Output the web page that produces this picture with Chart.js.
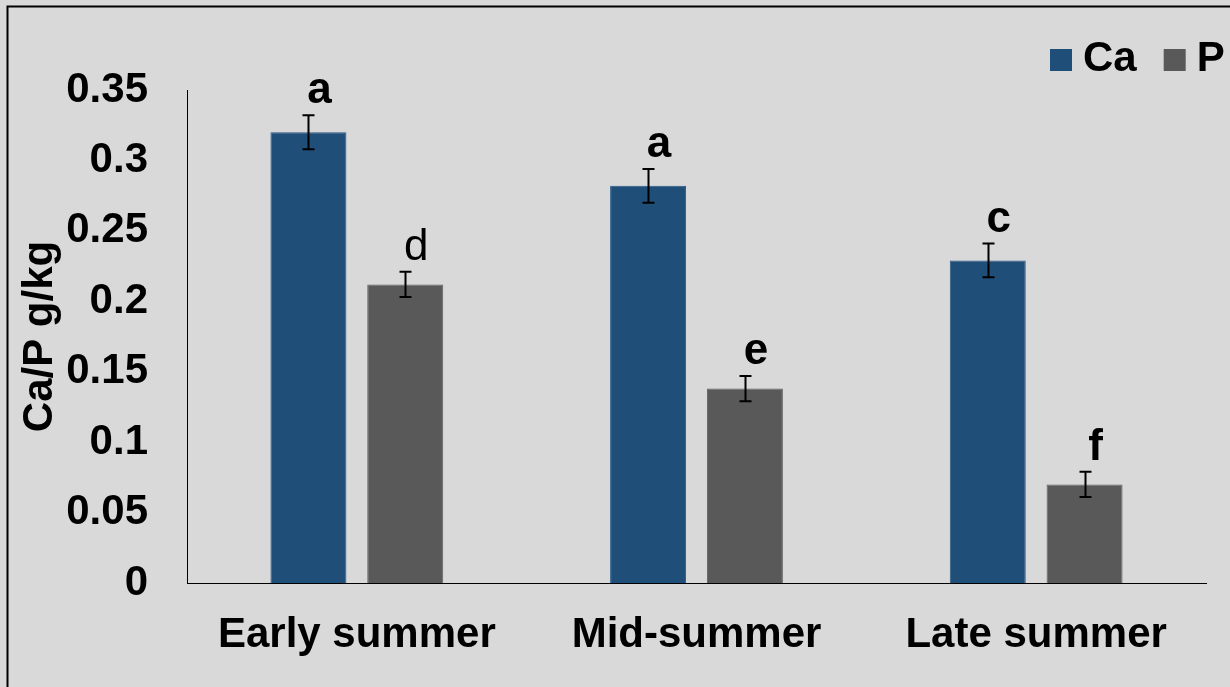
<!DOCTYPE html>
<html>
<head>
<meta charset="utf-8">
<title>Ca/P by season</title>
<script src="https://cdn.jsdelivr.net/npm/chart.js@4/dist/chart.umd.min.js"></script>
<style>
  html, body { margin: 0; padding: 0; background: #d9d9d9; }
  #wrap { width: 1230px; height: 687px; }
  canvas { display: block; }
</style>
</head>
<body>
<div id="wrap"><canvas id="chart" width="1230" height="687"></canvas></div>
<script>
// Seasons on the x axis
const seasons = ['Early summer', 'Mid-summer', 'Late summer'];

// Mean concentrations (g/kg)
const caValues = [0.320, 0.282, 0.229];
const pValues = [0.212, 0.138, 0.070];

// Error bar half-widths (g/kg)
const caErrors = [0.012, 0.012, 0.012];
const pErrors = [0.009, 0.009, 0.009];

// Significance letters above each bar
const caLetters = ['a', 'a', 'c'];
const pLetters = ['d', 'e', 'f'];

// Y axis tick values and their labels
const yTickValues = [0, 0.05, 0.1, 0.15, 0.2, 0.25, 0.3, 0.35];
const yTickLabels = ['0', '0.05', '0.1', '0.15', '0.2', '0.25', '0.3', '0.35'];

const FONT = '"Liberation Sans", Arial, sans-serif';
const CA_COLOR = '#1f4e79';
const P_COLOR = '#595959';

// Panel background and frame lines
const panelPlugin = {
  id: 'panel',
  beforeDraw(chart) {
    const ctx = chart.ctx;
    ctx.save();
    ctx.fillStyle = '#d9d9d9';
    ctx.fillRect(0, 0, chart.width, chart.height);
    ctx.strokeStyle = '#000';
    ctx.lineWidth = 2;
    ctx.beginPath();
    ctx.moveTo(chart.width, 6.5);
    ctx.lineTo(7.5, 6.5);
    ctx.lineTo(7.5, chart.height);
    ctx.stroke();
    ctx.restore();
  }
};

// Error bars and significance letters, positioned through the y scale
const errorBarPlugin = {
  id: 'errorBars',
  afterDatasetsDraw(chart, args, opts) {
    const ctx = chart.ctx;
    const y = chart.scales.y;
    const errSets = [caErrors, pErrors];
    const letterSets = [caLetters, pLetters];
    ctx.save();
    chart.data.datasets.forEach((ds, di) => {
      const meta = chart.getDatasetMeta(di);
      meta.data.forEach((bar, i) => {
        const v = ds.data[i];
        const e = errSets[di][i];
        const x = Math.round(bar.x) + 0.5;
        const yTop = y.getPixelForValue(v + e);
        const yBot = y.getPixelForValue(v - e);
        ctx.strokeStyle = '#000';
        ctx.lineWidth = 2;
        ctx.beginPath();
        ctx.moveTo(x, yTop);
        ctx.lineTo(x, yBot);
        ctx.moveTo(x - 6, yTop);
        ctx.lineTo(x + 6, yTop);
        ctx.moveTo(x - 6, yBot);
        ctx.lineTo(x + 6, yBot);
        ctx.stroke();

        const letter = letterSets[di][i];
        const weight = (opts.regularLetters || []).includes(letter) ? 'normal' : 'bold';
        ctx.font = weight + ' 44px ' + FONT;
        ctx.fillStyle = '#000';
        ctx.textAlign = 'center';
        ctx.textBaseline = 'alphabetic';
        ctx.fillText(letter, bar.x + 11, yTop - 12);
      });
    });
    ctx.restore();
  }
};

// Legend with compact square markers, top right
const legendPlugin = {
  id: 'squareLegend',
  afterDraw(chart) {
    const ctx = chart.ctx;
    ctx.save();
    ctx.font = 'bold 42px ' + FONT;
    ctx.textBaseline = 'alphabetic';
    ctx.textAlign = 'left';
    let x = 1050;
    const boxTop = 49, box = 22, baseline = 71;
    chart.data.datasets.forEach((ds) => {
      ctx.fillStyle = ds.backgroundColor;
      ctx.fillRect(x, boxTop, box, box);
      x += box + 11;
      ctx.fillStyle = '#000';
      ctx.fillText(ds.label, x, baseline);
      x += ctx.measureText(ds.label).width + 27;
    });
    ctx.restore();
  }
};

new Chart(document.getElementById('chart'), {
  type: 'bar',
  data: {
    labels: seasons,
    datasets: [
      {
        label: 'Ca',
        data: caValues,
        backgroundColor: CA_COLOR,
        borderColor: '#2c5a87',
        borderWidth: 1,
        categoryPercentage: 0.57,
        barPercentage: 0.785
      },
      {
        label: 'P',
        data: pValues,
        backgroundColor: P_COLOR,
        borderColor: '#626262',
        borderWidth: 1,
        categoryPercentage: 0.57,
        barPercentage: 0.785
      }
    ]
  },
  options: {
    responsive: false,
    animation: false,
    devicePixelRatio: 1,
    layout: { padding: { top: 90, right: 24, bottom: 0, left: 0 } },
    plugins: {
      legend: { display: false },
      tooltip: { enabled: false },
      errorBars: { regularLetters: ['d'] }
    },
    scales: {
      x: {
        grid: { display: false, drawTicks: false },
        border: { display: true, color: '#000', width: 1 },
        ticks: {
          color: '#000',
          padding: 27,
          font: { family: FONT, size: 42, weight: 'bold' }
        },
        afterFit(scale) { scale.height = 104; }
      },
      y: {
        min: 0,
        max: 0.35,
        grid: { display: false, drawTicks: false },
        border: { display: true, color: '#000', width: 1 },
        afterBuildTicks(scale) {
          scale.ticks = yTickValues.map(v => ({ value: v }));
        },
        ticks: {
          color: '#000',
          padding: 39,
          font: { family: FONT, size: 42, weight: 'bold' },
          callback(value, index) { return yTickLabels[index]; }
        },
        title: {
          display: true,
          text: 'Ca/P g/kg',
          color: '#000',
          padding: { top: 15, bottom: 0 },
          font: { family: FONT, size: 42, weight: 'bold' }
        },
        afterFit(scale) { scale.width = 187; }
      }
    }
  },
  plugins: [panelPlugin, errorBarPlugin, legendPlugin]
});
</script>
</body>
</html>
